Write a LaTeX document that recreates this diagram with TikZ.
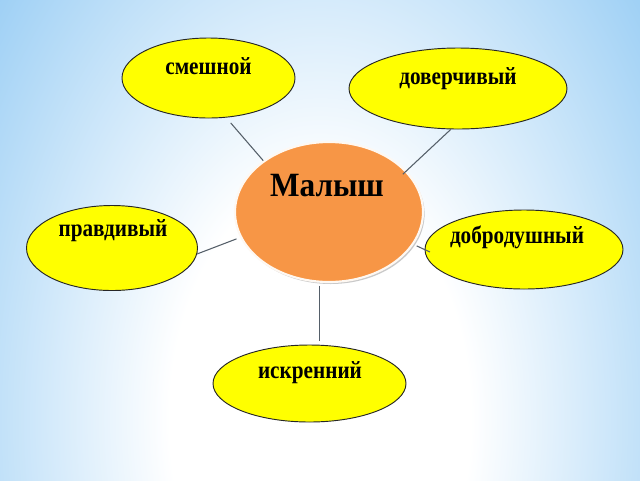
\documentclass[tikz,border=0pt]{standalone}
\usepackage{fontspec}
\usepackage{tikz}
\usetikzlibrary{shapes.geometric,calc,shadows}

\newfontfamily\wordfont[FakeStretch=0.86]{Liberation Serif}
\newfontfamily\kidfont[FakeStretch=0.92]{Liberation Serif}

\definecolor{bgblue}{RGB}{140,199,243}
\definecolor{wordyellow}{RGB}{255,255,0}
\definecolor{kidorange}{RGB}{247,150,70}
\definecolor{linkgray}{RGB}{85,95,105}
\pgfdeclareradialshading{bgglow}{\pgfpoint{0bp}{0bp}}{color(0bp)=(white); color(8bp)=(white); color(25bp)=(bgblue); color(50bp)=(bgblue)}

\begin{document}
\begin{tikzpicture}[x=0.75pt,y=0.75pt,yscale=-1,xscale=1,
    word/.style={ellipse, draw=black!85, fill=wordyellow, line width=0.7pt, inner sep=0pt},
    wordtext/.style={font=\wordfont\bfseries\fontsize{18.5}{20}\selectfont, text height=8.4pt, text depth=0pt, inner sep=0pt},
    kid/.style={ellipse, fill=kidorange, draw=white!93!kidorange, line width=1.6pt, inner sep=0pt,
        drop shadow={shadow xshift=1.2pt, shadow yshift=-1.5pt, opacity=0.35, fill=black!60}},
    kidtext/.style={font=\kidfont\bfseries\fontsize{25.5}{28}\selectfont, text height=11.6pt, text depth=0pt, inner sep=0pt},
    link/.style={draw=linkgray, line width=0.8pt}]
        \useasboundingbox (0,0) rectangle (640,480);
        %Background
        \begin{scope}
        \clip (0,0) rectangle (640,480);
        \shade[shading=bgglow] (320,420) ellipse (470 and 740);
        \end{scope}
        %Shape: Ellipse (centre)
        \node[kid, minimum width=188*0.75pt, minimum height=140*0.75pt] (malysh) at (329,212) {};
        %Shape: Ellipses (words)
        \node[word, minimum width=173*0.75pt, minimum height=80*0.75pt] (smeshnoy) at (208.5,78) {};
        \node[word, minimum width=218*0.75pt, minimum height=81*0.75pt] (doverchivy) at (458,88.5) {};
        \node[word, minimum width=171*0.75pt, minimum height=85*0.75pt] (pravdivy) at (112,248) {};
        \node[word, minimum width=198*0.75pt, minimum height=79*0.75pt] (dobrodushny) at (524,249.5) {};
        \node[word, minimum width=193*0.75pt, minimum height=77*0.75pt] (iskrenny) at (309.5,383.5) {};
        % Text Node
        \node[kidtext] (malyshtext) at ($(malysh.center)+(-2,-23.5)$) {Малыш};
        % Text Node
        \node[wordtext] (smeshnoytext) at ($(smeshnoy.center)+(0,-9)$) {смешной};
        \node[wordtext] (doverchivytext) at ($(doverchivy.center)+(0,-9.5)$) {доверчивый};
        \node[wordtext] (pravdivytext) at ($(pravdivy.center)+(1,-17)$) {правдивый};
        \node[wordtext] (dobrodushnytext) at ($(dobrodushny.center)+(-7,-11.5)$) {добродушный};
        \node[wordtext] (iskrennytext) at ($(iskrenny.center)+(0.5,-10.5)$) {искренний};
        %Straight Lines
        \draw[link, shorten >=5.25pt] (malysh.142) -- (smeshnoy.294);
        \draw[link, shorten <=-3.75pt] (malysh.28) -- (doverchivy.260);
        \draw[link, shorten <=3pt] (malysh.196) -- (pravdivy.356);
        \draw[link, shorten <=2.6pt, shorten >=-4.5pt] (malysh.339) -- (dobrodushny.west);
        \draw[link, shorten <=2.25pt, shorten >=3pt] (malysh.262) -- (malysh.262 |- iskrenny.north);
\end{tikzpicture}
\end{document}
